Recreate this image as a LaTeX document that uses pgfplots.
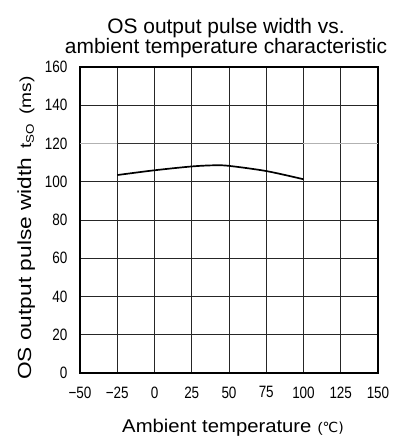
\documentclass[border=0pt]{standalone}
\usepackage{pgfplots}
\pgfplotsset{compat=1.18}
\usepackage{fontspec}
\setmainfont{Liberation Sans}
\newfontfamily\narrow[FakeStretch=0.82]{Liberation Sans}
\newfontfamily\wide[FakeStretch=1.2]{Liberation Sans}
\newfontfamily\wideb[FakeStretch=1.1]{Liberation Sans}
\newfontfamily\djv{DejaVu Sans}
\begin{document}
\begin{tikzpicture}
\begin{axis}[
  name=ax,
  width=298bp, height=306bp, scale only axis,
  xmin=-50, xmax=150, ymin=0, ymax=160,
  xtick={-50,-25,0,25,50,75,100,125,150},
  xticklabels={−50,−25,0,25,50,75,100,125,150},
  ytick={0,20,40,60,80,100,120,140,160},
  yticklabels={0,20,40,60,80,100,120,140,160},
  grid=major,
  major grid style={black!85, line width=0.7pt},
  axis line style={black, line width=1.3pt},
  tick style={draw=none},
  ticklabel style={font=\narrow\fontsize{16.5}{17}\selectfont},
  xticklabel style={yshift=-10bp},
  yticklabel style={xshift=-9bp},
  title={OS output pulse width vs.\\ambient temperature characteristic},
  title style={font=\fontsize{21}{20}\selectfont, align=center, xshift=-3bp},
  xlabel={Ambient temperature\hspace{6bp}{\fontsize{14}{14}\selectfont(\djv ℃)}},
  xlabel style={font=\wideb\fontsize{18.5}{20}\selectfont, yshift=-14bp, xshift=4bp},
  ylabel={OS output pulse width\hspace{9bp}{\fontsize{16}{16}\selectfont t\textsubscript{SO}\hspace{9bp}(ms)}},
  ylabel style={font=\wide\fontsize{19}{20}\selectfont, yshift=3bp, xshift=-8bp},
]
\addplot[gray!60, line width=1.8pt] coordinates {(-50,120) (150,120)};
\addplot[black!80, line width=1.4pt] coordinates {(-25,120) (100,120)};
\addplot[black, line width=1.7pt, smooth] coordinates {
  (-25,103.5) (0,106) (25,108) (40,108.6) (50,108.3) (75,105.6) (100,101.3)};
\end{axis}
\pgfresetboundingbox
\path ([shift={(-80bp,-72bp)}]ax.south west) rectangle ([shift={(18bp,67bp)}]ax.north east);
\end{tikzpicture}
\end{document}
